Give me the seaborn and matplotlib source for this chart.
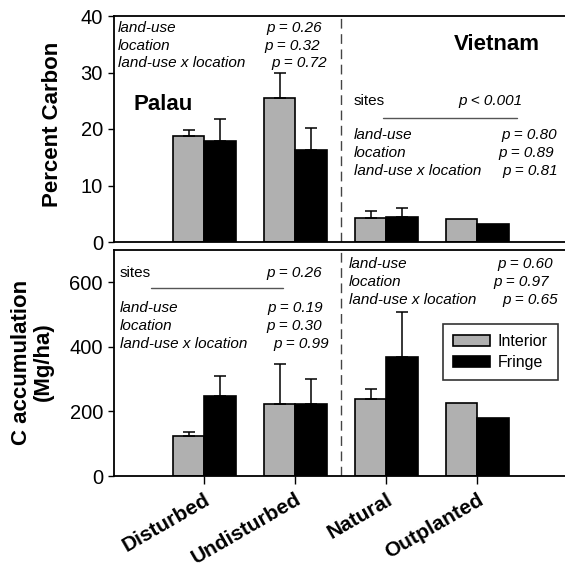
import numpy as np
import pandas as pd
import matplotlib
matplotlib.use('Agg')
import matplotlib.pyplot as plt
import seaborn as sns
from matplotlib.lines import Line2D
from matplotlib.patches import Patch

# --- Data ---
sites = ['Disturbed', 'Undisturbed', 'Natural', 'Outplanted']
locations = ['Interior', 'Fringe']

carbon_interior = [18.7, 25.4, 4.2, 4.1]
carbon_fringe = [17.8, 16.2, 4.5, 3.1]
carbon_err_interior = [1.1, 4.6, 1.3, np.nan]
carbon_err_fringe = [3.9, 3.9, 1.6, np.nan]

accum_interior = [124, 224, 237, 225]
accum_fringe = [249, 222, 368, 181]
accum_err_interior = [12, 124, 34, np.nan]
accum_err_fringe = [60, 77, 139, np.nan]

palette = {'Interior': '#b0b0b0', 'Fringe': 'black'}

W, H = 565, 572

sns.set_style('ticks')
plt.rcParams['font.family'] = ['Liberation Sans', 'DejaVu Sans']
plt.rcParams['axes.linewidth'] = 1.3
for key in ['text.color', 'axes.labelcolor', 'xtick.color', 'ytick.color', 'axes.edgecolor']:
    plt.rcParams[key] = 'black'


def long_df(interior, fringe):
    return pd.DataFrame({
        'site': sites * 2,
        'location': ['Interior'] * 4 + ['Fringe'] * 4,
        'value': list(interior) + list(fringe),
    })


def draw_panel(ax, interior, fringe, err_i, err_f):
    sns.barplot(data=long_df(interior, fringe), x='site', y='value',
                hue='location', order=sites, hue_order=locations,
                palette=palette, width=0.69, edgecolor='black',
                linewidth=1.2, errorbar=None, legend=False, ax=ax)
    for cont, errs in zip(ax.containers, [err_i, err_f]):
        xs, ys, es = [], [], []
        for bar, e in zip(cont, errs):
            if np.isfinite(e):
                xs.append(bar.get_x() + bar.get_width() / 2)
                ys.append(bar.get_height())
                es.append(e)
        ax.errorbar(xs, ys, yerr=[np.zeros(len(es)), es], fmt='none',
                    ecolor='black', elinewidth=1.1, capsize=4.3, capthick=1.1)
    ax.axvline(1.5, color='#444444', lw=1, ls=(0, (7, 4)))
    ax.set_xlim(-0.992, 3.964)
    ax.spines['right'].set_visible(False)
    ax.tick_params(axis='y', direction='out', length=4, width=1,
                   labelsize=14.5, pad=4)
    ax.set_xlabel('')


fig = plt.figure(figsize=(W / 100, H / 100), dpi=100)
ax1 = fig.add_axes([114 / W, 1 - 242 / H, 451 / W, 226 / H])
ax2 = fig.add_axes([114 / W, 1 - 476 / H, 451 / W, 226 / H])

draw_panel(ax1, carbon_interior, carbon_fringe, carbon_err_interior, carbon_err_fringe)
ax1.set_ylim(0, 40)
ax1.set_yticks([0, 10, 20, 30, 40])
ax1.tick_params(axis='x', bottom=False, labelbottom=False)
ax1.set_ylabel('Percent Carbon', fontsize=16, fontweight='bold')
ax1.yaxis.set_label_coords(-0.113, 0.522)

draw_panel(ax2, accum_interior, accum_fringe, accum_err_interior, accum_err_fringe)
ax2.set_ylim(0, 700)
ax2.set_yticks([0, 200, 400, 600])
ax2.tick_params(axis='x', direction='out', length=6, width=1, pad=4)
ax2.set_xticks(range(len(sites)))
ax2.set_xticklabels(sites, rotation=30, ha='right', rotation_mode='anchor',
                    fontsize=15, fontweight='bold')
ax2.set_ylabel('C accumulation\n(Mg/ha)', fontsize=16, fontweight='bold',
               linespacing=1.05)
ax2.yaxis.set_label_coords(-0.134, 0.504)

handles = [Patch(facecolor=palette[k], edgecolor='black', lw=1.2) for k in locations]
leg = ax2.legend(handles, locations, loc='upper left',
                 bbox_to_anchor=(443 / W, 1 - 324 / H), bbox_transform=fig.transFigure,
                 fontsize=11.5, frameon=True, fancybox=False, edgecolor='black',
                 handlelength=2.3, handleheight=0.7, handletextpad=0.45,
                 labelspacing=0.35, borderpad=0.65, borderaxespad=0)
leg.get_frame().set_linewidth(1.2)


def ftext(x, y, s, **kw):
    kw.setdefault('va', 'center')
    kw.setdefault('fontsize', 11)
    fig.text(x / W, 1 - y / H, s, **kw)


def fline(x0, x1, y):
    fig.add_artist(Line2D([x0 / W, x1 / W], [1 - y / H, 1 - y / H],
                          transform=fig.transFigure, color='#555555', lw=1))


# top-left stats
for (lab, pv, yy, xe) in [('land-use', 'p = 0.26', 28, 322),
                          ('location', 'p = 0.32', 46, 320),
                          ('land-use x location', 'p = 0.72', 63, 327)]:
    ftext(118, yy, lab, style='italic')
    ftext(xe, yy, pv, style='italic', ha='right')

ftext(163, 104, 'Palau', fontsize=16, fontweight='bold', ha='center')
ftext(497, 44, 'Vietnam', fontsize=16, fontweight='bold', ha='center')

# top-right stats
ftext(354, 101, 'sites')
ftext(523, 101, 'p < 0.001', style='italic', ha='right')
fline(383, 517, 118)
for (lab, pv, yy, xe) in [('land-use', 'p = 0.80', 135, 557),
                          ('location', 'p = 0.89', 153, 554),
                          ('land-use x location', 'p = 0.81', 171, 558)]:
    ftext(354, yy, lab, style='italic')
    ftext(xe, yy, pv, style='italic', ha='right')

# bottom-left stats
ftext(120, 273, 'sites')
ftext(322, 273, 'p = 0.26', style='italic', ha='right')
fline(151, 283, 288)
for (lab, pv, yy, xe) in [('land-use', 'p = 0.19', 308, 323),
                          ('location', 'p = 0.30', 326, 322),
                          ('land-use x location', 'p = 0.99', 344, 329)]:
    ftext(120, yy, lab, style='italic')
    ftext(xe, yy, pv, style='italic', ha='right')

# bottom-right stats
for (lab, pv, yy, xe) in [('land-use', 'p = 0.60', 264, 553),
                          ('location', 'p = 0.97', 282, 549),
                          ('land-use x location', 'p = 0.65', 300, 558)]:
    ftext(349, yy, lab, style='italic')
    ftext(xe, yy, pv, style='italic', ha='right')

fig.savefig('out.png', dpi=100)
